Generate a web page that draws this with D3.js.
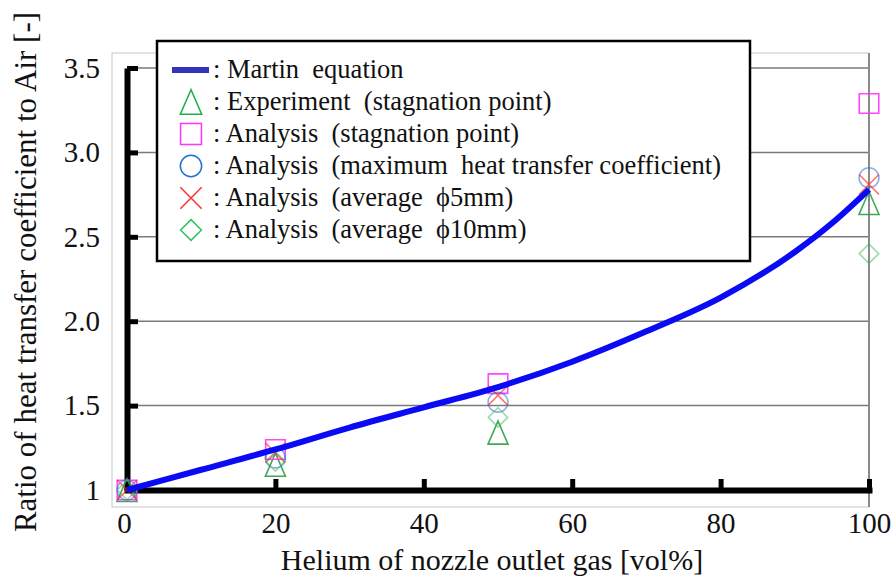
<!DOCTYPE html>
<html>
<head>
<meta charset="utf-8">
<script src="https://cdn.jsdelivr.net/npm/d3@7"></script>
<style>
  html, body { margin: 0; padding: 0; background: #fff; }
  svg { display: block; }
  svg text { font-family: "Liberation Serif", Tinos, "DejaVu Serif", "Times New Roman", Times, serif; fill: #111; }
</style>
</head>
<body>
<svg id="chart" width="896" height="577"></svg>
<script>
// Helium fraction in the nozzle outlet gas [vol%]
const heliumPct = [0, 20, 50, 100];

// Martin equation curve (ratio vs. helium fraction)
const martinX = [0, 10, 20, 30, 40, 50, 60, 70, 80, 90, 95, 100];
const martinY = [1.0, 1.12, 1.24, 1.37, 1.49, 1.61, 1.76, 1.94, 2.14, 2.41, 2.58, 2.78];

// Measured / analysed ratios at each helium fraction
const experimentStag = [1.0, 1.15, 1.34, 2.70];
const analysisStag   = [1.0, 1.24, 1.63, 3.29];
const analysisMax    = [1.0, 1.19, 1.52, 2.85];
const analysisAvg5   = [1.0, 1.22, 1.56, 2.81];
const analysisAvg10  = [1.0, 1.17, 1.43, 2.40];

const yTicks = [1, 1.5, 2.0, 2.5, 3.0, 3.5];
const xTicks = [0, 20, 40, 60, 80, 100];

const legendLabels = [
  ": Martin  equation",
  ": Experiment  (stagnation point)",
  ": Analysis  (stagnation point)",
  ": Analysis  (maximum  heat transfer coefficient)",
  ": Analysis  (average  \u03d55mm)",
  ": Analysis  (average  \u03d510mm)"
];

const svg = d3.select("#chart");

const x = d3.scaleLinear().domain([0, 100]).range([127, 869]);
const y = d3.scaleLinear().domain([1, 3.5]).range([490, 68]);

// slightly tall open triangle, centred on its bounding box
const symbolTallTriangle = {
  draw(ctx, size) {
    const r = Math.sqrt(size) / 2;
    const h = r * 1.15;
    ctx.moveTo(0, -h);
    ctx.lineTo(r, h);
    ctx.lineTo(-r, h);
    ctx.closePath();
  }
};

// plot-area frame
svg.append("rect")
  .attr("x", 112).attr("y", 53)
  .attr("width", 869 - 112).attr("height", 507 - 53)
  .attr("fill", "none").attr("stroke", "#c8c8c8").attr("stroke-width", 1);

// horizontal gridlines
svg.append("g").selectAll("line")
  .data(yTicks.filter(d => d > 1))
  .join("line")
  .attr("x1", x(0)).attr("x2", x(100))
  .attr("y1", d => y(d)).attr("y2", d => y(d))
  .attr("stroke", "#7a7a7a").attr("stroke-width", 1.5);

// right border at 100 %
svg.append("line")
  .attr("x1", x(100)).attr("x2", x(100))
  .attr("y1", 53).attr("y2", 507)
  .attr("stroke", "#8a8a8a").attr("stroke-width", 2);

// y axis: thick line with inward ticks
const yAxis = svg.append("g")
  .attr("transform", `translate(${x(0)},0)`)
  .call(d3.axisRight(y).tickValues(yTicks).tickSize(11).tickSizeOuter(0).tickFormat(""));
yAxis.select(".domain").attr("stroke", "#000").attr("stroke-width", 6);
yAxis.selectAll(".tick line").attr("stroke", "#000").attr("stroke-width", 5);

// y tick labels
const yLab = svg.append("g")
  .attr("transform", `translate(${x(0)},0)`)
  .call(d3.axisLeft(y).tickValues(yTicks).tickSize(0).tickPadding(27)
    .tickFormat(d => d === 1 ? "1" : d3.format(".1f")(d)));
yLab.attr("font-family", null).attr("font-size", 29);
yLab.select(".domain").remove();
yLab.selectAll("text").attr("fill", "#111");

// x axis: thick line with upward ticks
const xAxis = svg.append("g")
  .attr("transform", `translate(0,${y(1)})`)
  .call(d3.axisTop(x).tickValues(xTicks.filter(d => d > 0)).tickSize(11).tickSizeOuter(0).tickFormat(""));
xAxis.select(".domain").attr("stroke", "#000").attr("stroke-width", 6).attr("stroke-linecap", "square");
xAxis.selectAll(".tick line").attr("stroke", "#000").attr("stroke-width", 5);

// x tick labels
const xLab = svg.append("g")
  .attr("transform", `translate(0,${y(1)})`)
  .call(d3.axisBottom(x).tickValues(xTicks).tickSize(0).tickPadding(22));
xLab.attr("font-family", null).attr("font-size", 29);
xLab.select(".domain").remove();
xLab.selectAll("text").attr("fill", "#111");
xLab.selectAll(".tick").filter(d => d === 0).select("text").attr("dx", -3);

// axis titles
svg.append("text")
  .attr("x", 492).attr("y", 570)
  .attr("text-anchor", "middle")
  .attr("font-size", 30)
  .text("Helium of nozzle outlet gas [vol%]");

svg.append("text")
  .attr("transform", "translate(36,272) rotate(-90)")
  .attr("text-anchor", "middle")
  .attr("font-size", 31)
  .text("Ratio of heat transfer coefficient to Air [-]");

// marker series
const series = [
  { values: experimentStag, type: symbolTallTriangle, size: 400, color: "#1f9a3a", opacity: 0.85, legendColor: "#22b050" },
  { values: analysisStag,   type: d3.symbolSquare,    size: 380, color: "#ff33ff", opacity: 0.9,  legendColor: "#ff33ff" },
  { values: analysisMax,    type: d3.symbolCircle,    size: 310, color: "#2f6fd0", opacity: 0.55, legendColor: "#2070d0" },
  { values: analysisAvg5,   type: d3.symbolTimes,     size: 260, color: "#ff2a2a", opacity: 0.65, legendColor: "#ff3030" },
  { values: analysisAvg10,  type: d3.symbolDiamond2,  size: 240, color: "#39b65a", opacity: 0.5,  legendColor: "#30c060" }
];

const markers = svg.append("g");
series.forEach(s => {
  markers.append("g").selectAll("path")
    .data(heliumPct.map((h, i) => [h, s.values[i]]))
    .join("path")
    .attr("transform", d => `translate(${x(d[0])},${y(d[1])})`)
    .attr("d", d3.symbol(s.type, s.size))
    .attr("fill", "none")
    .attr("stroke", s.color)
    .attr("stroke-width", 1.6)
    .attr("opacity", s.opacity);
});

// Martin equation curve
svg.append("path")
  .datum(martinX.map((v, i) => [v, martinY[i]]))
  .attr("fill", "none")
  .attr("stroke", "#0a0af5")
  .attr("stroke-width", 6)
  .attr("d", d3.line().x(d => x(d[0])).y(d => y(d[1])).curve(d3.curveMonotoneX));

// legend
const lg = svg.append("g");
lg.append("rect")
  .attr("x", 157).attr("y", 41).attr("width", 593).attr("height", 220)
  .attr("fill", "#fff").attr("stroke", "#000").attr("stroke-width", 2.5);

const rowY = d3.scalePoint().domain(d3.range(legendLabels.length)).range([70, 230]);

lg.append("line")
  .attr("x1", 172).attr("x2", 209)
  .attr("y1", rowY(0)).attr("y2", rowY(0))
  .attr("stroke", "#3333bb").attr("stroke-width", 6);

series.forEach((s, i) => {
  lg.append("path")
    .attr("transform", `translate(191,${rowY(i + 1)})`)
    .attr("d", d3.symbol(s.type, s.size * 1.15))
    .attr("fill", "none")
    .attr("stroke", s.legendColor)
    .attr("stroke-width", 1.5);
});

lg.selectAll("text.lab")
  .data(legendLabels)
  .join("text")
  .attr("class", "lab")
  .attr("x", 213)
  .attr("y", (d, i) => rowY(i) + 8)
  .attr("font-size", 26.5)
  .attr("xml:space", "preserve")
  .style("white-space", "pre")
  .text(d => d);
</script>
</body>
</html>
